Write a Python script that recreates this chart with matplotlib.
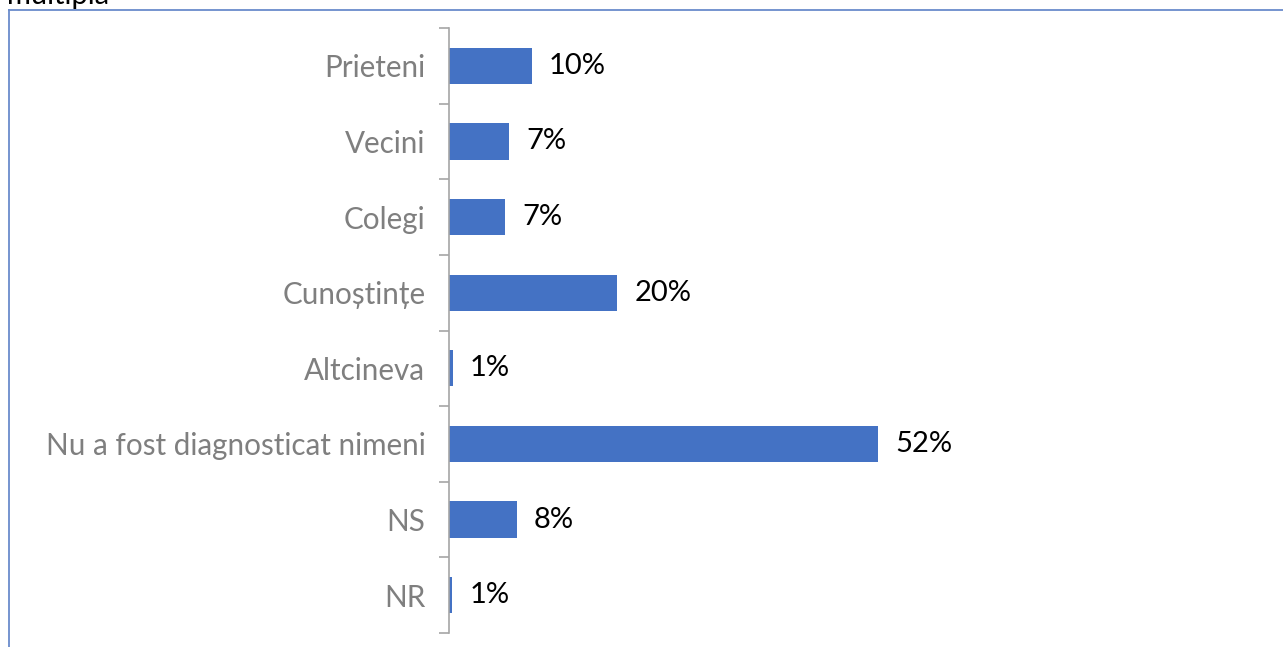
import matplotlib
matplotlib.use("Agg")
import matplotlib.pyplot as plt
from matplotlib.lines import Line2D

categories = ["Prieteni", "Vecini", "Colegi", "Cunoștințe", "Altcineva",
              "Nu a fost diagnosticat nimeni", "NS", "NR"]
values = [10.0, 7.3, 6.8, 20.4, 0.5, 52.0, 8.2, 0.4]
value_labels = ["10%", "7%", "7%", "20%", "1%", "52%", "8%", "1%"]

W, H = 1283, 647
fig = plt.figure(figsize=(W / 100, H / 100), dpi=100)
plt.rcParams['font.family'] = ['Lato', 'DejaVu Sans']

left, right, top, bottom = 449, 1260, 28, 633
ax = fig.add_axes([left / W, 1 - bottom / H, (right - left) / W, (bottom - top) / H])

n = len(categories)
ypos = list(range(n))
ax.barh(ypos, values, height=0.48, color="#4472C4")
ax.set_ylim(n - 0.5, -0.5)
ax.set_xlim(0, (right - left) / 8.25)

for y, v, lab in zip(ypos, values, value_labels):
    ax.text(v + 2.05, y, lab, va="center", ha="left", fontsize=21, color="black")

ax.set_yticks(ypos)
ax.set_yticklabels(categories, fontsize=21.3, color="#7F7F7F")
ax.tick_params(axis="y", length=0, pad=17)
# boundary ticks
ax.set_yticks([i - 0.5 for i in range(n + 1)], minor=True)
ax.tick_params(axis="y", which="minor", length=7, color="#A6A6A6", width=1.2)
ax.set_xticks([])
for s in ["top", "right", "bottom"]:
    ax.spines[s].set_visible(False)
ax.spines["left"].set_color("#A6A6A6")
ax.spines["left"].set_linewidth(1.2)

# outer frame of the chart area
fx, fy = 9 / W, 1 - 10 / H
fig.add_artist(Line2D([fx, 1], [fy, fy], transform=fig.transFigure, color="#6A8BCB", lw=1.3))
fig.add_artist(Line2D([fx, fx], [0, fy], transform=fig.transFigure, color="#6A8BCB", lw=1.3))

# cut-off title text at the top
fig.text(7 / W, 1 - 4 / H, "multiplă", fontsize=21, color="black", va="baseline", ha="left")

fig.savefig("out.png", dpi=100)
